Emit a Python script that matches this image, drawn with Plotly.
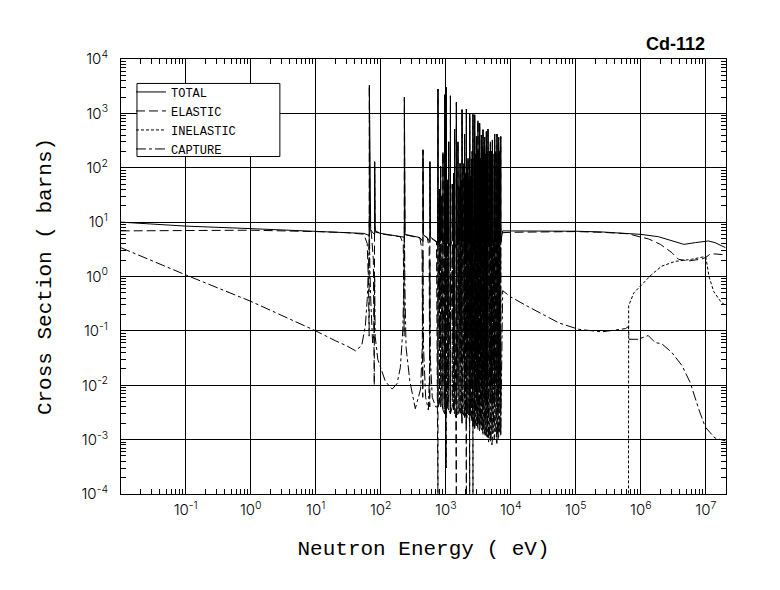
import plotly.graph_objects as go

# Cd-112 neutron cross sections (eV, barns)

# --- thermal / isolated resonances (below ~700 eV) ---
tot_e_low = [0.01, 0.1, 1, 10, 30, 55, 64, 66.8, 66.8, 70, 78, 80.6, 80.6, 82,
             100, 150, 200, 226, 231, 231, 236, 300, 400, 438, 446, 446, 452,
             520, 562, 571, 571, 580, 650, 720]
tot_v_low = [10.0, 8.45, 7.6, 6.8, 6.5, 6.2, 5.8, 5.6, 3300, 7.2, 6.1, 5.9, 130, 6.6,
             6.2, 5.8, 5.5, 5.3, 5.1, 2000, 5.9, 5.6, 5.2, 4.5, 4.4, 215, 5.8,
             5.2, 4.3, 4.2, 130, 5.3, 4.8, 4.5]

el_e_low = [0.01, 0.1, 1, 10, 30, 55, 62, 65, 66.3, 66.8, 68, 72, 77, 79.5, 80.6, 82,
            100, 150, 200, 222, 229, 231, 236, 300, 400, 432, 443, 446, 452,
            520, 555, 567, 571, 580, 650, 720]
el_v_low = [6.9, 7.0, 7.1, 6.7, 6.4, 6.0, 4.0, 0.6, 0.08, 3250, 9.0, 6.0, 2.0, 0.01, 125, 7.0,
            6.1, 5.7, 5.4, 4.0, 0.08, 1950, 5.9, 5.5, 5.1, 3.0, 0.006, 210, 5.8,
            5.1, 3.5, 0.004, 125, 5.2, 4.7, 4.3]

cap_e_low = [0.01, 0.1, 1, 10, 20, 30, 41, 51, 58, 62, 65, 66.8, 68, 70, 75, 79.5, 80.6,
             82, 90, 100, 118, 150, 178, 200, 218, 226, 231, 236, 245, 280, 340, 410,
             435, 446, 455, 490, 540, 565, 571, 580, 620, 700]
cap_v_low = [3.4, 1.07, 0.35, 0.1, 0.066, 0.053, 0.043, 0.054, 0.125, 0.39, 1.5, 13, 1.5,
             0.4, 0.06, 0.1, 1.0, 0.08, 0.03, 0.021, 0.0117, 0.0085, 0.0107, 0.021, 0.1,
             0.6, 8, 0.5, 0.05, 0.012, 0.0037, 0.0085, 0.05, 3, 0.05, 0.006, 0.0035,
             0.02, 2, 0.03, 0.006, 0.004]

# --- dense resonance region (0.75 - 7 keV) ---
res_e = [759, 800, 835, 870, 906, 962, 1020, 1065, 1110, 1180,
         1260, 1320, 1370, 1456, 1540, 1600, 1660, 1720, 1777, 1810,
         1850, 1900, 1950, 2010, 2075, 2140, 2200, 2270, 2335, 2370,
         2410, 2480, 2550, 2590, 2620, 2700, 2745, 2785, 2870, 2910,
         2955, 3000, 3040, 3080, 3125, 3170, 3220, 3270, 3320, 3370,
         3420, 3475, 3530, 3580, 3630, 3685, 3735, 3790, 3850, 3905,
         3965, 4030, 4090, 4150, 4210, 4270, 4330, 4395, 4460, 4550,
         4650, 4750, 4855, 4940, 5030, 5120, 5210, 5320, 5430, 5540,
         5650, 5770, 5900, 6020, 6135, 6230, 6320, 6410, 6510, 6630,
         6750, 6870, 7000]
res_tot_peak = [2800, 40, 107, 30, 190, 2200, 3000, 60, 300, 2100,
                50, 80, 510, 1590, 300, 45, 120, 60, 1170, 60,
                90, 120, 415, 80, 1200, 100, 150, 60, 1000, 90,
                70, 145, 200, 70, 955, 120, 150, 940, 180, 100,
                375, 90, 150, 200, 730, 120, 200, 110, 660, 180,
                150, 120, 400, 200, 250, 150, 500, 180, 200, 150,
                365, 200, 180, 150, 465, 200, 200, 160, 515, 250,
                150, 200, 300, 250, 200, 180, 325, 220, 150, 180,
                415, 220, 200, 180, 415, 250, 150, 180, 365, 220,
                200, 200, 375]
res_tot_base = [4.2, 4.8, 4.5, 5.0, 4.4, 3.6, 3.2, 4.9, 4.3, 3.5,
                4.8, 4.6, 4.0, 3.3, 4.2, 4.9, 4.5, 4.8, 3.5, 4.7,
                4.6, 4.4, 4.1, 4.6, 3.4, 4.5, 4.4, 4.7, 3.6, 4.6,
                4.7, 4.4, 4.3, 4.6, 3.6, 4.5, 4.4, 3.7, 4.4, 4.5,
                4.1, 4.6, 4.5, 4.3, 3.9, 4.5, 4.4, 4.5, 3.9, 4.4,
                4.6, 4.5, 4.1, 4.3, 4.3, 4.4, 4.0, 4.4, 4.4, 4.5,
                4.1, 4.3, 4.5, 4.4, 4.0, 4.3, 4.4, 4.4, 4.0, 4.3,
                4.6, 4.3, 4.2, 4.3, 4.5, 4.4, 4.2, 4.3, 4.6, 4.4,
                4.1, 4.3, 4.5, 4.4, 4.1, 4.3, 4.6, 4.4, 4.2, 4.4,
                4.5, 4.4, 4.3]
res_el_dip = [5e-5, 0.05, 0.02, 0.2, 0.01, 0.004, 3e-4, 0.1, 0.008, 0.003,
              0.15, 0.06, 0.006, 5e-5, 0.01, 0.2, 0.03, 0.1, 0.002, 0.08,
              0.05, 0.03, 0.006, 0.05, 5e-5, 0.04, 0.03, 0.1, 5e-5, 0.05,
              0.08, 0.02, 0.01, 0.06, 5e-5, 0.02, 0.015, 0.003, 0.01, 0.03,
              0.005, 0.03, 0.02, 0.01, 0.004, 0.02, 0.01, 0.03, 0.003, 0.01,
              0.03, 0.02, 0.006, 0.01, 0.01, 0.02, 0.004, 0.01, 0.015, 0.02,
              0.005, 0.01, 0.02, 0.015, 0.004, 0.01, 0.01, 0.02, 0.003, 0.01,
              0.03, 0.01, 0.006, 0.01, 0.01, 0.02, 0.005, 0.01, 0.03, 0.02,
              0.004, 0.01, 0.01, 0.02, 0.004, 0.01, 0.03, 0.02, 0.005, 0.01,
              0.01, 0.015, 0.005]
res_cap_peak = [30, 2, 4, 1.5, 6, 25, 30, 3, 8, 20,
                3, 4, 10, 20, 8, 3, 5, 3, 15, 3,
                4, 5, 10, 4, 15, 4, 5, 3, 12, 4,
                3, 5, 6, 3, 12, 5, 5, 12, 6, 4,
                8, 4, 5, 6, 10, 5, 6, 5, 10, 6,
                5, 5, 8, 6, 6, 5, 9, 6, 6, 5,
                8, 6, 5, 5, 9, 6, 6, 5, 9, 6,
                5, 6, 8, 6, 6, 5, 8, 6, 5, 5,
                9, 6, 6, 5, 9, 6, 5, 5, 8, 6,
                6, 6, 8]
res_cap_base = [0.004, 0.005, 0.004, 0.005, 0.0035, 0.003, 0.003, 0.004, 0.0035, 0.003,
                0.004, 0.0035, 0.003, 0.0025, 0.003, 0.004, 0.003, 0.0035, 0.0022, 0.003,
                0.003, 0.0028, 0.0025, 0.003, 0.002, 0.0028, 0.003, 0.0028, 0.002, 0.0026,
                0.003, 0.0025, 0.0022, 0.0024, 0.0018, 0.0025, 0.002, 0.0016, 0.0022, 0.0024,
                0.0018, 0.0022, 0.0025, 0.0018, 0.0015, 0.002, 0.002, 0.0017, 0.0014, 0.0018,
                0.0022, 0.0016, 0.0016, 0.0015, 0.002, 0.0014, 0.0012, 0.0015, 0.0018, 0.0013,
                0.0014, 0.0012, 0.002, 0.0013, 0.0011, 0.0014, 0.0018, 0.0011, 0.0012, 0.0009,
                0.002, 0.0012, 0.0009, 0.0011, 0.0015, 0.0008, 0.001, 0.0013, 0.0018, 0.001,
                0.0011, 0.0014, 0.0016, 0.0009, 0.0008, 0.0012, 0.0015, 0.0011, 0.001, 0.0013,
                0.0014, 0.0012, 0.0012]

# --- continuum (above ~7 keV) ---
tot_e_high = [7500, 1e4, 3e4, 1e5, 2.5e5, 6.5e5, 1e6, 1.86e6, 3e6, 4.6e6, 6.9e6, 1.1e7, 1.38e7, 2e7]
tot_v_high = [6.9, 6.9, 6.85, 6.8, 6.6, 6.2, 5.95, 5.4, 4.5, 3.9, 4.2, 4.5, 4.2, 3.4]

el_e_high = [7500, 1e4, 3e4, 1e5, 2.5e5, 6.5e5, 1e6, 1.32e6, 2e6, 3e6, 3.8e6, 5.4e6,
             8.7e6, 1e7, 1.17e7, 1.38e7, 2e7]
el_v_high = [6.4, 6.5, 6.6, 6.7, 6.5, 6.1, 5.3, 4.9, 3.9, 2.75, 2.07, 1.93,
             2.1, 2.25, 2.6, 2.6, 2.5]

cap_e_high = [7500, 1e4, 1.95e4, 5.5e4, 1.1e5, 2.5e5, 5.8e5, 6.45e5, 6.6e5, 9e5, 1.3e6,
              1.66e6, 2.1e6, 3e6, 4.3e6, 5.75e6, 7.8e6, 9.8e6, 1.38e7, 2e7]
cap_v_high = [0.55, 0.42, 0.27, 0.14, 0.107, 0.096, 0.11, 0.12, 0.07, 0.07, 0.082,
              0.061, 0.058, 0.04, 0.023, 0.0112, 0.0036, 0.0017, 0.00107, 0.00095]

inel_e = [6.45e5, 6.5e5, 7.8e5, 1.05e6, 1.48e6, 2.1e6, 3.4e6, 6e6, 9.3e6, 1.0e7,
          1.12e7, 1.32e7, 1.74e7, 2e7]
inel_v = [1e-5, 0.29, 0.5, 0.72, 1.1, 1.55, 1.9, 2.07, 2.3, 2.25, 1.0, 0.53, 0.33, 0.3]

x_ticks = [1e-1, 1, 1e1, 1e2, 1e3, 1e4, 1e5, 1e6, 1e7]
x_ticktext = ["10<sup>-1</sup>", "10<sup>0</sup>", "10<sup>1</sup>", "10<sup>2</sup>",
              "10<sup>3</sup>", "10<sup>4</sup>", "10<sup>5</sup>", "10<sup>6</sup>",
              "10<sup>7</sup>"]
y_ticks = [1e-4, 1e-3, 1e-2, 1e-1, 1, 1e1, 1e2, 1e3, 1e4]
y_ticktext = ["10<sup>-4</sup>", "10<sup>-3</sup>", "10<sup>-2</sup>", "10<sup>-1</sup>",
              "10<sup>0</sup>", "10<sup>1</sup>", "10<sup>2</sup>", "10<sup>3</sup>",
              "10<sup>4</sup>"]

n = len(res_e)
assert all(len(a) == n for a in (res_tot_peak, res_tot_base, res_el_dip,
                                 res_cap_peak, res_cap_base))


def strokes(first, peak, last):
    """vertical resonance strokes: value below, peak, value after"""
    xs, ys = [], []
    for e, a, p, b in zip(res_e, first, peak, last):
        xs += [e, e, e]
        ys += [a, p, b]
    return xs, ys


tx, ty = strokes(res_tot_base, res_tot_peak, res_tot_base)
# elastic peaks coincide with the total peaks at this scale
ex, ey = strokes(res_el_dip, res_tot_peak, res_tot_base)
cx, cy = strokes(res_cap_base, res_cap_peak, res_cap_base)

fig = go.Figure()
fig.add_trace(go.Scatter(x=tot_e_low + tx + tot_e_high, y=tot_v_low + ty + tot_v_high,
                         mode="lines", name="TOTAL",
                         line=dict(color="black", width=1)))
fig.add_trace(go.Scatter(x=el_e_low + ex + el_e_high, y=el_v_low + ey + el_v_high,
                         mode="lines", name="ELASTIC",
                         line=dict(color="black", width=1, dash="9px,4px")))
fig.add_trace(go.Scatter(x=inel_e, y=inel_v, mode="lines", name="INELASTIC",
                         line=dict(color="black", width=1, dash="3px,2px")))
fig.add_trace(go.Scatter(x=cap_e_low + cx + cap_e_high, y=cap_v_low + cy + cap_v_high,
                         mode="lines", name="CAPTURE",
                         line=dict(color="black", width=1, dash="10px,3px,3px,3px")))

minor_x = [m * 10.0 ** d for d in range(-2, 8) for m in range(2, 10)]
minor_y = [m * 10.0 ** d for d in range(-4, 4) for m in range(2, 10)]

axis_font = dict(family="Inter, Roboto, sans-serif", size=15, color="black", weight=300)
title_font = dict(family="Liberation Mono, monospace", size=21, color="black")

fig.update_xaxes(type="log", range=[-1.995, 7.31],
                 tickmode="array", tickvals=x_ticks, ticktext=x_ticktext,
                 ticks="inside", ticklen=6, tickcolor="black",
                 showline=True, linecolor="black", linewidth=1, mirror="allticks",
                 showgrid=True, gridcolor="black", gridwidth=1,
                 minor=dict(tickmode="array", tickvals=minor_x, ticks="inside",
                            ticklen=5, tickcolor="black", showgrid=False),
                 tickfont=axis_font, ticklabelstandoff=2,
                 title=dict(text="Neutron Energy ( eV)", font=title_font, standoff=22))
fig.update_yaxes(type="log", range=[-4, 4],
                 tickmode="array", tickvals=y_ticks, ticktext=y_ticktext,
                 ticks="inside", ticklen=6, tickcolor="black",
                 showline=True, linecolor="black", linewidth=1, mirror="allticks",
                 showgrid=True, gridcolor="black", gridwidth=1,
                 minor=dict(tickmode="array", tickvals=minor_y, ticks="inside",
                            ticklen=5, tickcolor="black", showgrid=False),
                 tickfont=axis_font, ticklabelstandoff=9,
                 title=dict(text="Cross Section ( barns)", font=title_font, standoff=24))

fig.add_annotation(text="<b>Cd-112</b>", xref="paper", yref="paper", x=0.968, y=1.035,
                   xanchor="right", yanchor="middle", showarrow=False,
                   font=dict(family="Liberation Sans, Arial, sans-serif", size=18, color="black"))

# legend frame
fig.add_shape(type="rect", xref="paper", yref="paper", x0=0.0264, x1=0.2626,
              y0=0.7758, y1=0.9438, layer="above",
              fillcolor="white", line=dict(color="black", width=1))

# page body adds an 8px offset, margins compensate for it
fig.update_layout(
    width=780, height=590,
    margin=dict(l=113, r=62, t=51, b=104),
    paper_bgcolor="white", plot_bgcolor="white",
    legend=dict(x=0.0165, y=0.9576, xanchor="left", yanchor="top",
                bgcolor="rgba(0,0,0,0)", borderwidth=0,
                font=dict(family="Liberation Mono, monospace", size=12, color="black"),
                itemwidth=30, tracegroupgap=0),
)

fig.write_html("out.html")
